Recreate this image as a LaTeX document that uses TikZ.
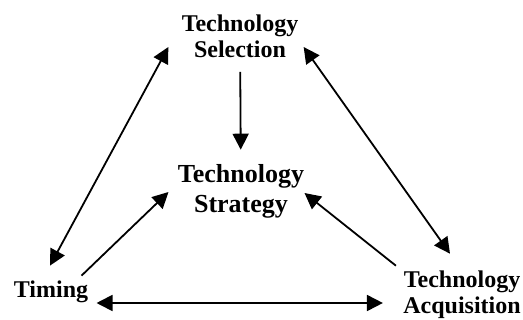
\documentclass[tikz,border=0pt]{standalone}
\usepackage{fontspec}
\setmainfont{Liberation Serif}
\usetikzlibrary{arrows.meta}
\usetikzlibrary{positioning}

\begin{document}
\begin{tikzpicture}[%
  x=0.5pt, y=-0.5pt,
  label node/.style={font=\bfseries\fontsize{12}{13}\selectfont, align=center, inner sep=0pt},
  core node/.style={label node, font=\bfseries\fontsize{13}{15}\selectfont},
  link/.style={-{Triangle[length=8pt,width=8pt]}, line width=0.9pt},
  both link/.style={link, {Triangle[length=8pt,width=8pt]}-{Triangle[length=8pt,width=8pt]}}
  ]
  \useasboundingbox (0,0) rectangle (523,320);

  % Draw the four labels
  \node[label node] (sel) at (240,36) {Technology\\Selection};
  \node[core node] (strat) at (241,191) {Technology\\Strategy};
  \node[label node] (tim) at (51,292) {Timing};
  \node[label node] (acq) at (462,295) {Technology\\Acquisition};

  % Arrows into the strategy
  \draw[link, shorten <=7pt, shorten >=7pt] (sel) -- (strat);
  \draw[link] ([shift={(-7,-5)}]tim.north east) -- ([shift={(-9,1)}]strat.west);
  \draw[link] ([shift={(-7,-5)}]acq.north west) -- ([shift={(0,2)}]strat.east);

  % Two-way arrows round the triangle
  \draw[both link] ([shift={(-13,11)}]sel.west) -- ([shift={(-1,-15)}]tim.north);
  \draw[both link] ([shift={(5,11)}]sel.east) -- ([shift={(-12,-17)}]acq.north);
  \draw[both link] ([shift={(8,11)}]tim.east) -- ([shift={(-20,8)}]acq.west);
\end{tikzpicture}
\end{document}
